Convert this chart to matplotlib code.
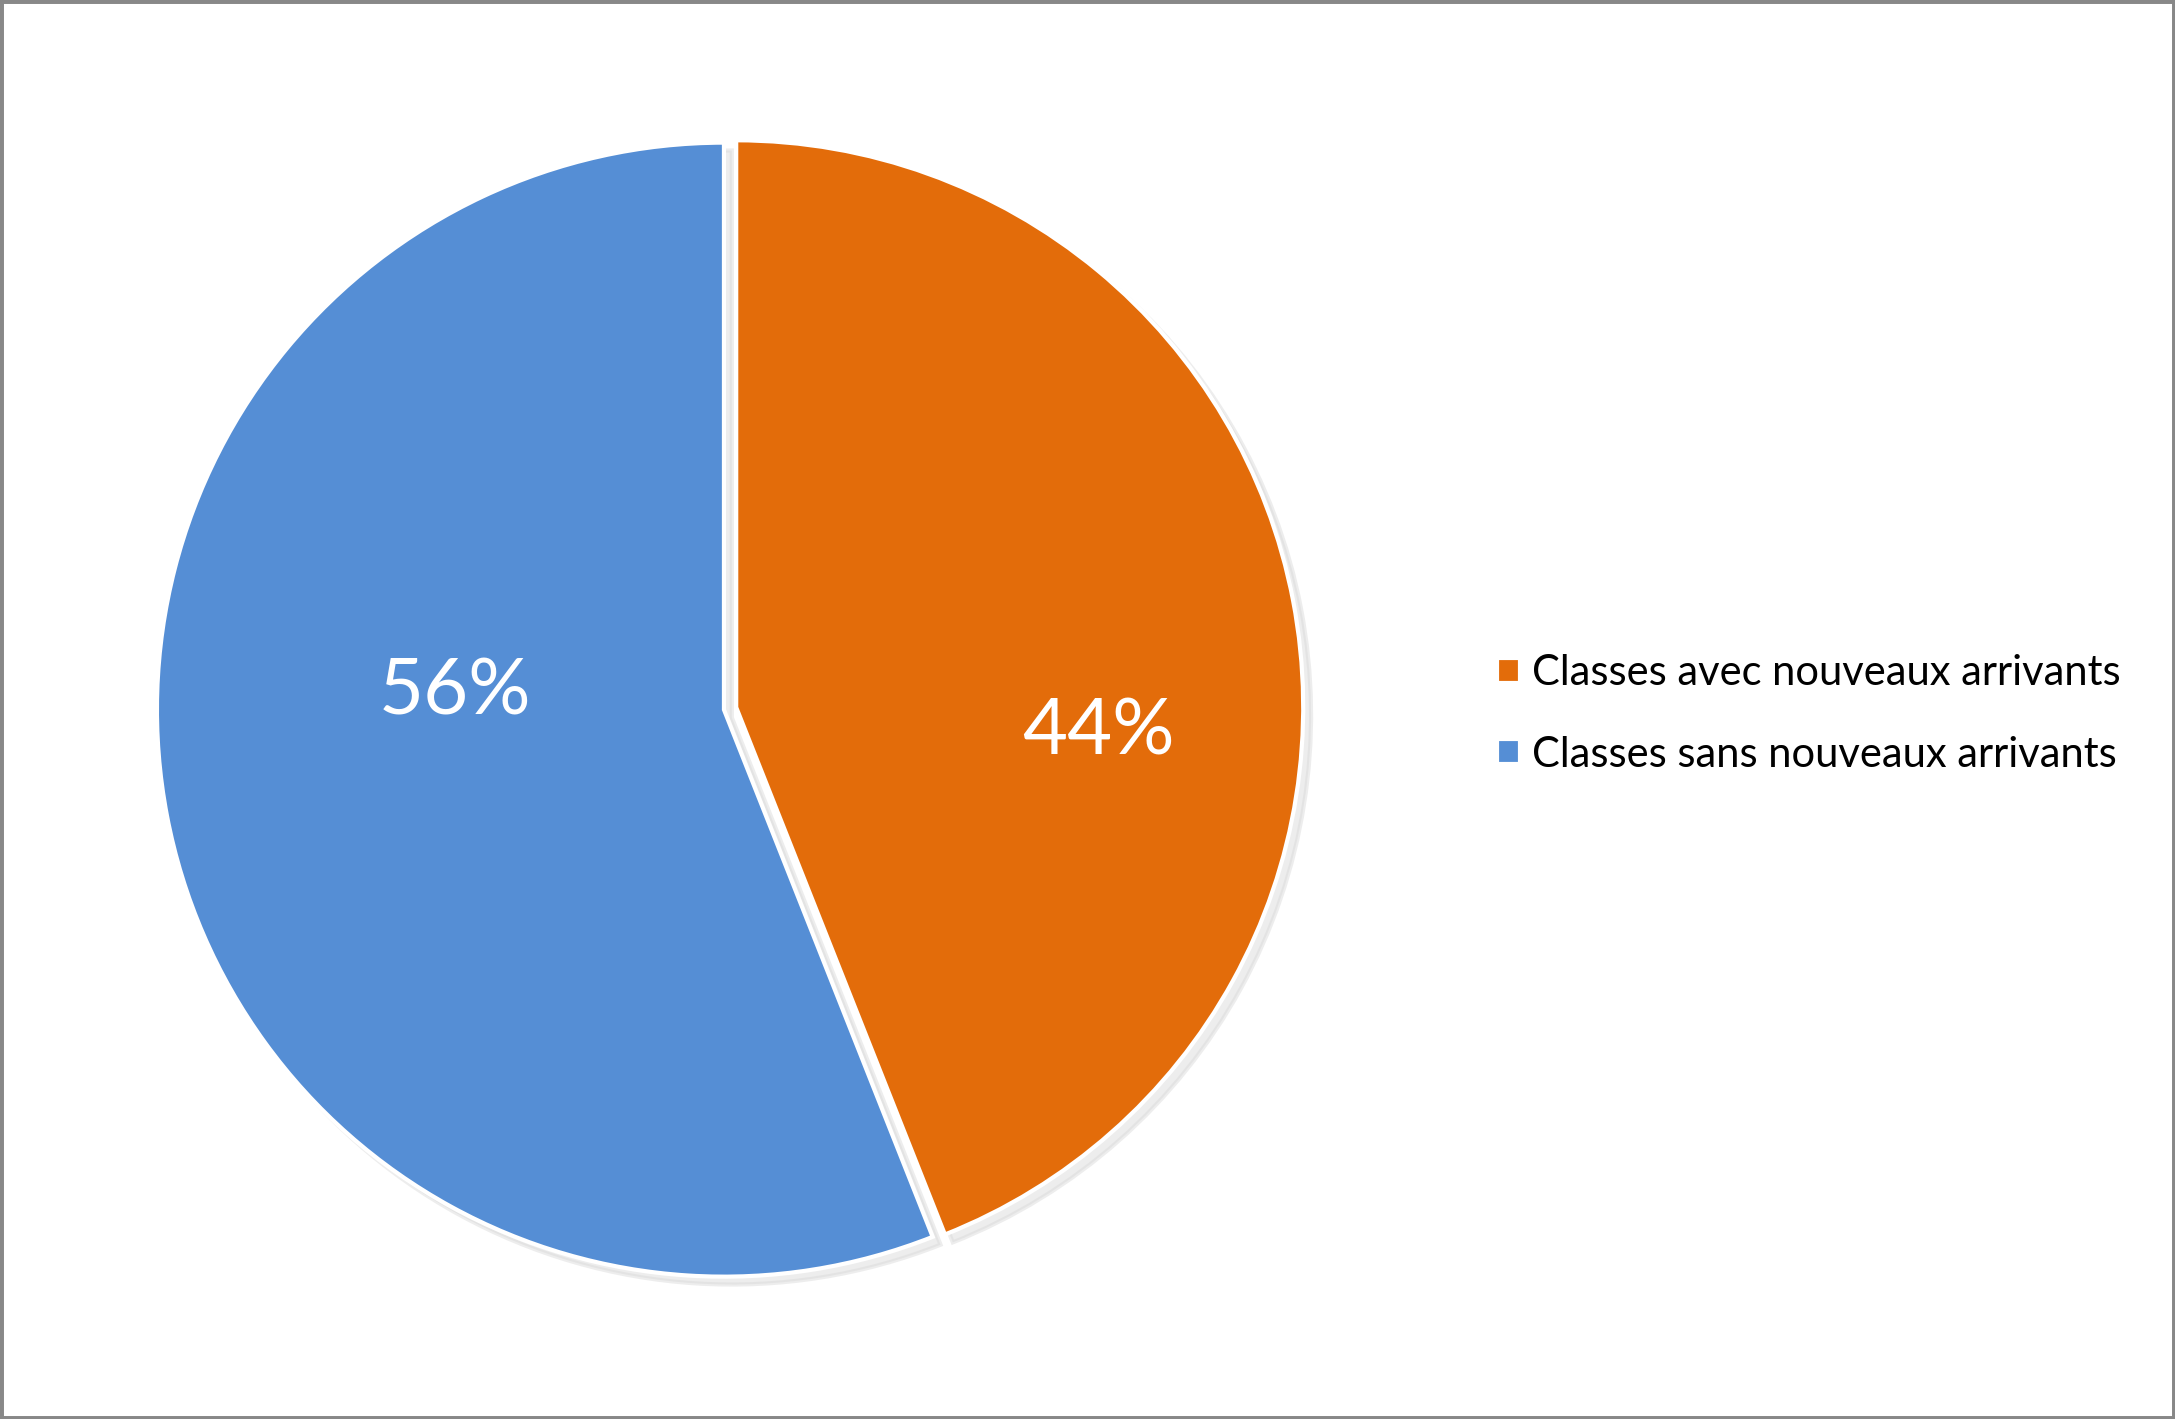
import matplotlib.pyplot as plt
from matplotlib.patches import Rectangle
import numpy as np

plt.rcParams['font.family'] = ['Lato', 'DejaVu Sans']

labels = ["Classes avec nouveaux arrivants", "Classes sans nouveaux arrivants"]
values = [44, 56]
colors = ["#E36C0A", "#558ED5"]
explode = [0.022, 0]
# where Excel put the percent labels (radius fraction, angle in degrees)
label_pos = [(0.64, -4), (0.475, 176.5)]

fig = plt.figure(figsize=(21.75, 14.19), dpi=100)
ax = fig.add_axes([0.02, 0.0204, 0.6257, 0.959])

wedges, _ = ax.pie(values, colors=colors, explode=explode, startangle=90,
                   counterclock=False,
                   wedgeprops=dict(edgecolor="white", linewidth=3),
                   shadow=dict(ox=0.01, oy=-0.01, shade=0.0, color="#d8d8d8", alpha=0.45))
ax.set_xlim(-1.2, 1.2)
ax.set_ylim(-1.2, 1.2)
ax.set_aspect("equal")
ax.axis("off")

for w, v, (r, ang) in zip(wedges, values, label_pos):
    cx, cy = w.center
    a = np.deg2rad(ang)
    ax.text(cx + r * np.cos(a), cy + r * np.sin(a), f"{v}%", ha="center", va="center",
            color="white", fontsize=56)

fig.legend(wedges, labels, loc="center left", bbox_to_anchor=(0.671, 0.497),
           frameon=False, fontsize=30, handlelength=0.55, handleheight=0.55,
           handletextpad=0.3, labelspacing=1.05)

fig.patches.append(Rectangle((0, 0), 1, 1, transform=fig.transFigure, fill=False,
                             edgecolor="#888888", linewidth=5))

fig.savefig("out.png", dpi=100)
